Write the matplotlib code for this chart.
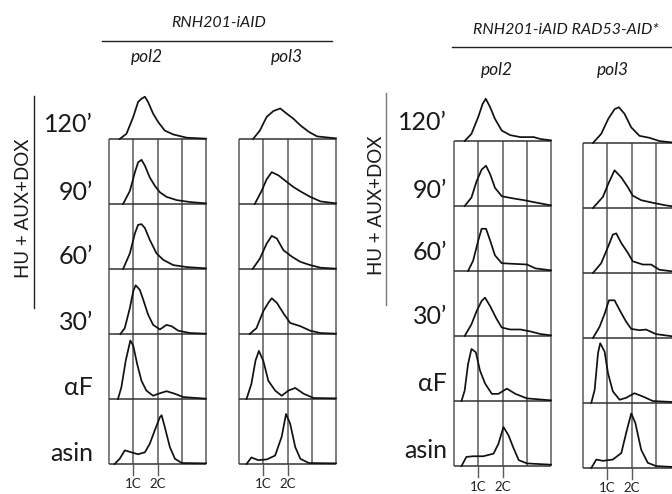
import matplotlib
matplotlib.use("Agg")
import matplotlib.pyplot as plt

W, H, DPI = 672, 494, 100
FONT = ["Lato", "DejaVu Sans"]
plt.rcParams["font.family"] = FONT

# ---------------- data (x in grid-column units: 1 = 1C, 2 = 2C; h = fraction of row height)
row_labels = ["120’", "90’", "60’", "30’", "αF", "asin"]
tick_positions = [1, 2]
tick_labels = ["1C", "2C"]
group_titles = ["RNH201-iAID", "RNH201-iAID RAD53-AID*"]
column_titles = ["pol2", "pol3"]
side_label = "HU + AUX+DOX"

# Panel A, pol2
a_pol2_120_x = [0.44, 0.72, 1.0, 1.2, 1.34, 1.48, 1.61, 1.82, 2.03, 2.3, 2.65, 3.2, 4.0]
a_pol2_120_h = [0.0, 0.08, 0.34, 0.57, 0.62, 0.65, 0.57, 0.39, 0.26, 0.13, 0.07, 0.02, 0.005]
a_pol2_90_x = [0.58, 0.86, 1.07, 1.2, 1.34, 1.48, 1.68, 1.89, 2.1, 2.37, 2.79, 3.34, 4.0]
a_pol2_90_h = [0.0, 0.2, 0.49, 0.64, 0.68, 0.59, 0.41, 0.28, 0.18, 0.11, 0.06, 0.03, 0.01]
a_pol2_60_x = [0.58, 0.86, 1.07, 1.2, 1.34, 1.48, 1.68, 1.96, 2.24, 2.65, 3.2, 4.0]
a_pol2_60_h = [0.0, 0.24, 0.55, 0.68, 0.69, 0.63, 0.45, 0.24, 0.14, 0.06, 0.03, 0.01]
a_pol2_30_x = [0.47, 0.65, 0.86, 1.0, 1.1, 1.27, 1.41, 1.61, 1.82, 2.1, 2.37, 2.58, 2.86, 3.34, 4.0]
a_pol2_30_h = [0.0, 0.09, 0.4, 0.66, 0.75, 0.68, 0.53, 0.3, 0.14, 0.07, 0.14, 0.12, 0.05, 0.015, 0.005]
a_pol2_af_x = [0.37, 0.51, 0.69, 0.88, 1.0, 1.16, 1.34, 1.54, 1.82, 2.03, 2.37, 2.72, 3.06, 4.0]
a_pol2_af_h = [0.0, 0.18, 0.59, 0.9, 0.82, 0.54, 0.28, 0.13, 0.05, 0.08, 0.12, 0.08, 0.03, 0.005]
a_pol2_as_x = [0.23, 0.44, 0.65, 0.92, 1.2, 1.48, 1.68, 1.89, 2.1, 2.17, 2.3, 2.51, 2.72, 3.0, 4.0]
a_pol2_as_h = [0.0, 0.08, 0.21, 0.18, 0.15, 0.18, 0.31, 0.52, 0.72, 0.75, 0.57, 0.26, 0.08, 0.015, 0.01]

# Panel A, pol3
a_pol3_120_x = [0.58, 0.86, 1.14, 1.42, 1.7, 1.97, 2.25, 2.53, 2.88, 3.22, 4.0]
a_pol3_120_h = [0.0, 0.13, 0.34, 0.43, 0.47, 0.39, 0.31, 0.21, 0.11, 0.04, 0.01]
a_pol3_90_x = [0.65, 0.93, 1.14, 1.35, 1.63, 1.9, 2.25, 2.6, 2.94, 3.36, 4.0]
a_pol3_90_h = [0.0, 0.2, 0.38, 0.49, 0.44, 0.36, 0.26, 0.18, 0.11, 0.04, 0.01]
a_pol3_60_x = [0.56, 0.86, 1.14, 1.35, 1.56, 1.83, 2.18, 2.53, 2.94, 3.36, 4.0]
a_pol3_60_h = [0.0, 0.16, 0.39, 0.51, 0.47, 0.29, 0.19, 0.11, 0.06, 0.02, 0.005]
a_pol3_30_x = [0.44, 0.72, 1.0, 1.21, 1.35, 1.56, 1.83, 2.11, 2.53, 2.94, 3.36, 4.0]
a_pol3_30_h = [0.0, 0.09, 0.35, 0.48, 0.55, 0.48, 0.32, 0.17, 0.12, 0.05, 0.015, 0.005]
a_pol3_af_x = [0.31, 0.51, 0.68, 0.82, 1.0, 1.21, 1.49, 1.76, 2.04, 2.32, 2.67, 3.08, 4.0]
a_pol3_af_h = [0.0, 0.23, 0.59, 0.74, 0.59, 0.28, 0.13, 0.05, 0.13, 0.17, 0.08, 0.015, 0.01]
a_pol3_as_x = [0.31, 0.51, 0.79, 1.14, 1.49, 1.76, 1.94, 2.11, 2.32, 2.53, 2.88, 4.0]
a_pol3_as_h = [0.0, 0.1, 0.06, 0.07, 0.13, 0.42, 0.77, 0.62, 0.26, 0.08, 0.015, 0.01]

# Panel B, pol2
b_pol2_120_x = [0.44, 0.72, 1.0, 1.18, 1.31, 1.49, 1.69, 1.97, 2.32, 2.74, 3.29, 3.57, 4.0]
b_pol2_120_h = [0.0, 0.11, 0.37, 0.57, 0.65, 0.52, 0.34, 0.16, 0.09, 0.06, 0.06, 0.03, 0.01]
b_pol2_90_x = [0.44, 0.72, 0.93, 1.14, 1.32, 1.49, 1.69, 1.97, 2.39, 2.88, 3.42, 4.0]
b_pol2_90_h = [0.0, 0.13, 0.38, 0.56, 0.62, 0.49, 0.28, 0.15, 0.12, 0.09, 0.05, 0.01]
b_pol2_60_x = [0.58, 0.79, 1.0, 1.14, 1.32, 1.49, 1.69, 1.97, 2.46, 3.01, 3.36, 4.0]
b_pol2_60_h = [0.0, 0.16, 0.47, 0.65, 0.65, 0.47, 0.24, 0.12, 0.11, 0.1, 0.04, 0.01]
b_pol2_30_x = [0.44, 0.72, 0.93, 1.14, 1.28, 1.49, 1.76, 1.97, 2.32, 2.74, 3.15, 3.57, 4.0]
b_pol2_30_h = [0.0, 0.18, 0.38, 0.54, 0.59, 0.46, 0.26, 0.13, 0.1, 0.1, 0.07, 0.03, 0.01]
b_pol2_af_x = [0.31, 0.44, 0.58, 0.72, 0.9, 1.07, 1.28, 1.56, 1.83, 2.18, 2.53, 3.01, 4.0]
b_pol2_af_h = [0.0, 0.16, 0.57, 0.8, 0.75, 0.47, 0.27, 0.11, 0.11, 0.19, 0.11, 0.04, 0.01]
b_pol2_as_x = [0.31, 0.51, 0.79, 1.21, 1.63, 1.83, 2.04, 2.25, 2.46, 2.67, 3.01, 4.0]
b_pol2_as_h = [0.0, 0.14, 0.15, 0.15, 0.19, 0.34, 0.6, 0.47, 0.27, 0.09, 0.04, 0.02]

# Panel B, pol3
b_pol3_120_x = [0.41, 0.75, 1.04, 1.3, 1.48, 1.71, 1.99, 2.33, 2.74, 3.15, 3.64, 4.0]
b_pol3_120_h = [0.0, 0.14, 0.37, 0.52, 0.55, 0.45, 0.24, 0.11, 0.08, 0.03, 0.01, 0.005]
b_pol3_90_x = [0.41, 0.82, 1.04, 1.3, 1.58, 1.85, 2.05, 2.4, 2.88, 3.42, 4.0]
b_pol3_90_h = [0.0, 0.17, 0.37, 0.58, 0.47, 0.32, 0.19, 0.12, 0.08, 0.04, 0.01]
b_pol3_60_x = [0.41, 0.75, 1.04, 1.23, 1.37, 1.58, 1.85, 2.05, 2.47, 2.81, 3.15, 4.0]
b_pol3_60_h = [0.0, 0.15, 0.41, 0.59, 0.61, 0.46, 0.31, 0.18, 0.13, 0.13, 0.05, 0.01]
b_pol3_30_x = [0.41, 0.68, 0.89, 1.07, 1.3, 1.51, 1.78, 1.99, 2.33, 2.6, 3.01, 4.0]
b_pol3_30_h = [0.0, 0.17, 0.37, 0.58, 0.58, 0.43, 0.25, 0.14, 0.12, 0.13, 0.06, 0.01]
b_pol3_af_x = [0.34, 0.48, 0.62, 0.71, 0.89, 1.03, 1.23, 1.51, 1.78, 2.12, 2.47, 2.88, 4.0]
b_pol3_af_h = [0.0, 0.2, 0.77, 0.92, 0.79, 0.46, 0.18, 0.05, 0.08, 0.15, 0.1, 0.03, 0.01]
b_pol3_as_x = [0.34, 0.55, 0.82, 1.23, 1.58, 1.78, 1.99, 2.16, 2.4, 2.67, 3.01, 4.0]
b_pol3_as_h = [0.0, 0.13, 0.11, 0.13, 0.23, 0.54, 0.84, 0.69, 0.28, 0.08, 0.03, 0.01]

columns = [
    [(a_pol2_120_x, a_pol2_120_h), (a_pol2_90_x, a_pol2_90_h), (a_pol2_60_x, a_pol2_60_h),
     (a_pol2_30_x, a_pol2_30_h), (a_pol2_af_x, a_pol2_af_h), (a_pol2_as_x, a_pol2_as_h)],
    [(a_pol3_120_x, a_pol3_120_h), (a_pol3_90_x, a_pol3_90_h), (a_pol3_60_x, a_pol3_60_h),
     (a_pol3_30_x, a_pol3_30_h), (a_pol3_af_x, a_pol3_af_h), (a_pol3_as_x, a_pol3_as_h)],
    [(b_pol2_120_x, b_pol2_120_h), (b_pol2_90_x, b_pol2_90_h), (b_pol2_60_x, b_pol2_60_h),
     (b_pol2_30_x, b_pol2_30_h), (b_pol2_af_x, b_pol2_af_h), (b_pol2_as_x, b_pol2_as_h)],
    [(b_pol3_120_x, b_pol3_120_h), (b_pol3_90_x, b_pol3_90_h), (b_pol3_60_x, b_pol3_60_h),
     (b_pol3_30_x, b_pol3_30_h), (b_pol3_af_x, b_pol3_af_h), (b_pol3_as_x, b_pol3_as_h)],
]

# ---------------- layout (pixels)
# (left px, right px, bottom baseline px, tick-label offset px)
col_geom = [(109, 206, 464, 20), (239, 336, 464, 20), (454, 551, 466, 21), (583, 680, 468, 20)]
ROW_PX = 65.0
YMIN, YMAX = -0.6, 6.0

fig = plt.figure(figsize=(W / DPI, H / DPI), dpi=DPI)
fig.patch.set_facecolor("white")


def fx(x):
    return x / W


def fy(y):
    return 1 - y / H


GRID = "#5a5a5a"
INK = "#111111"

for (left, right, base, lab_off), curves in zip(col_geom, columns):
    bottom_px = base - YMIN * ROW_PX
    top_px = base - YMAX * ROW_PX
    ax = fig.add_axes([fx(left), fy(bottom_px), (right - left) / W, (bottom_px - top_px) / H])
    ax.set_xlim(0, 4)
    ax.set_ylim(YMIN, YMAX)
    ax.axis("off")
    # grid boxes
    for gx in range(5):
        ax.plot([gx, gx], [0, 5], color=GRID, lw=1.1, clip_on=False, solid_capstyle="butt")
    for gy in range(6):
        ax.plot([0, 4], [gy, gy], color="#333333", lw=1.1, clip_on=False, solid_capstyle="butt")
    # histograms: top curve sits on row 5
    for i, (xs, hs) in enumerate(curves):
        r = 5 - i
        ax.plot(xs, [r + h for h in hs], color=INK, lw=1.25, clip_on=False, solid_joinstyle="round")
    # 1C / 2C ticks
    for tp, tl in zip(tick_positions, tick_labels):
        ax.plot([tp, tp], [0, -11 / ROW_PX], color=GRID, lw=1.0, clip_on=False)
        ax.text(tp, -lab_off / ROW_PX, tl, ha="center", va="center", fontsize=9.5,
                color="#222222", clip_on=False)

# ---------------- text
txt = dict(color="#1a1a1a")
# panel A
fig.text(fx(219), fy(23), group_titles[0], ha="center", va="center", fontsize=11.5, style="italic", **txt)
fig.add_artist(plt.Line2D([fx(102), fx(332)], [fy(41), fy(41)], color="#222222", lw=1.0))
fig.text(fx(147), fy(57), column_titles[0], ha="center", va="center", fontsize=12.5, style="italic", **txt)
fig.text(fx(287), fy(57), column_titles[1], ha="center", va="center", fontsize=12.5, style="italic", **txt)
fig.text(fx(24), fy(208), side_label, rotation=90, ha="center", va="center", fontsize=13.5, **txt)
fig.add_artist(plt.Line2D([fx(34), fx(34)], [fy(96), fy(308)], color="#222222", lw=1.0))
for lab, yc in zip(row_labels, [125, 192, 257, 322, 387, 453]):
    fig.text(fx(93), fy(yc), lab, ha="right", va="center", fontsize=18, **txt)

# panel B
fig.text(fx(566), fy(30), group_titles[1], ha="center", va="center", fontsize=11.5, style="italic", **txt)
fig.add_artist(plt.Line2D([fx(452), fx(672)], [fy(47), fy(47)], color="#222222", lw=1.0))
fig.text(fx(497), fy(70), column_titles[0], ha="center", va="center", fontsize=12.5, style="italic", **txt)
fig.text(fx(613), fy(70), column_titles[1], ha="center", va="center", fontsize=12.5, style="italic", **txt)
fig.text(fx(377), fy(205), side_label, rotation=90, ha="center", va="center", fontsize=13.5, **txt)
fig.add_artist(plt.Line2D([fx(386), fx(386)], [fy(93), fy(305)], color="#777777", lw=1.0))
for lab, yc in zip(row_labels, [123, 190, 253, 317, 383, 450]):
    fig.text(fx(447), fy(yc), lab, ha="right", va="center", fontsize=18, **txt)

fig.savefig("out.png", dpi=DPI, facecolor="white")
